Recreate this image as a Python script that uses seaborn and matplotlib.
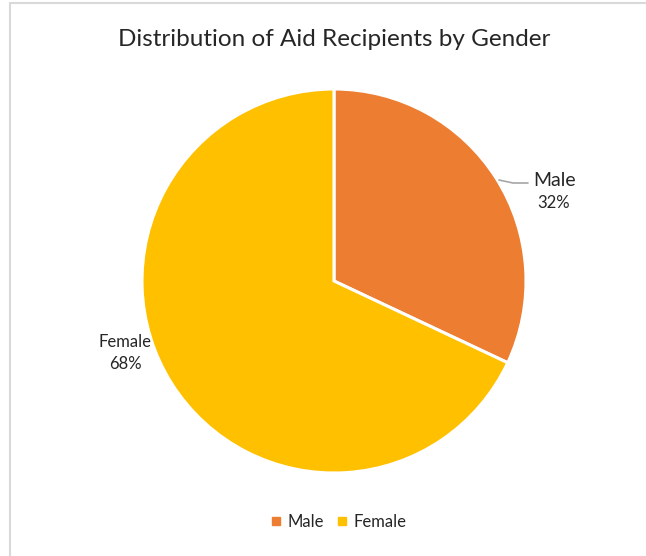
import matplotlib
matplotlib.use("Agg")
import matplotlib.pyplot as plt
import seaborn as sns
from matplotlib.patches import Rectangle
from matplotlib.lines import Line2D

categories = ["Male", "Female"]
values = [32, 68]
colors = ["#ED7D31", "#FFC000"]
title = "Distribution of Aid Recipients by Gender"

sns.set_theme(style="white")
plt.rcParams['font.family'] = ['Lato', 'DejaVu Sans']

W, H = 646, 556
fig = plt.figure(figsize=(W / 100, H / 100), dpi=100)

# chart area border (top and left visible)
fig.patches.append(Rectangle((9.5 / W, -0.1), 1.2, (556 - 2.5) / H + 0.1,
                             transform=fig.transFigure, fill=False,
                             edgecolor="#D9D9D9", linewidth=1.5))

cx, cy, r = 334, 281, 192
ax = fig.add_axes([(cx - r) / W, (H - cy - r) / H, 2 * r / W, 2 * r / H])
wedges, _ = ax.pie(values, colors=colors, startangle=90, counterclock=False,
                   radius=1.0,
                   wedgeprops=dict(edgecolor="white", linewidth=2.2))
ax.set_xlim(-1, 1)
ax.set_ylim(-1, 1)
ax.set_aspect("equal")
ax.axis("off")

def px(x, y):
    return ((x - cx) / r, (cy - y) / r)

tc = "#262626"
# Male label with leader line
ax.add_line(Line2D(*zip(px(499, 180), px(513, 183), px(528, 183)),
                   color="#A6A6A6", linewidth=1.2, clip_on=False))
x, y = px(555, 181)
ax.text(x, y, categories[0], ha="center", va="center", fontsize=14, color=tc)
x, y = px(554, 203)
ax.text(x, y, f"{values[0]}%", ha="center", va="center", fontsize=12, color=tc)
x, y = px(125, 342)
ax.text(x, y, categories[1], ha="center", va="center", fontsize=12, color=tc)
x, y = px(125, 364)
ax.text(x, y, f"{values[1]}%", ha="center", va="center", fontsize=12, color=tc)

fig.text(334 / W, 1 - 40 / H, title, ha="center", va="center",
         fontsize=17.5, color=tc)

handles = [Line2D([], [], marker="s", linestyle="none", markersize=6,
                  markerfacecolor=c, markeredgecolor=c) for c in colors]
fig.legend(handles, categories, loc="center", bbox_to_anchor=(338 / W, 1 - 522 / H),
           ncol=2, frameon=False, fontsize=12, handletextpad=0.3,
           columnspacing=0.7, handlelength=0.8, labelcolor=tc)

fig.savefig("out.png", dpi=100)
